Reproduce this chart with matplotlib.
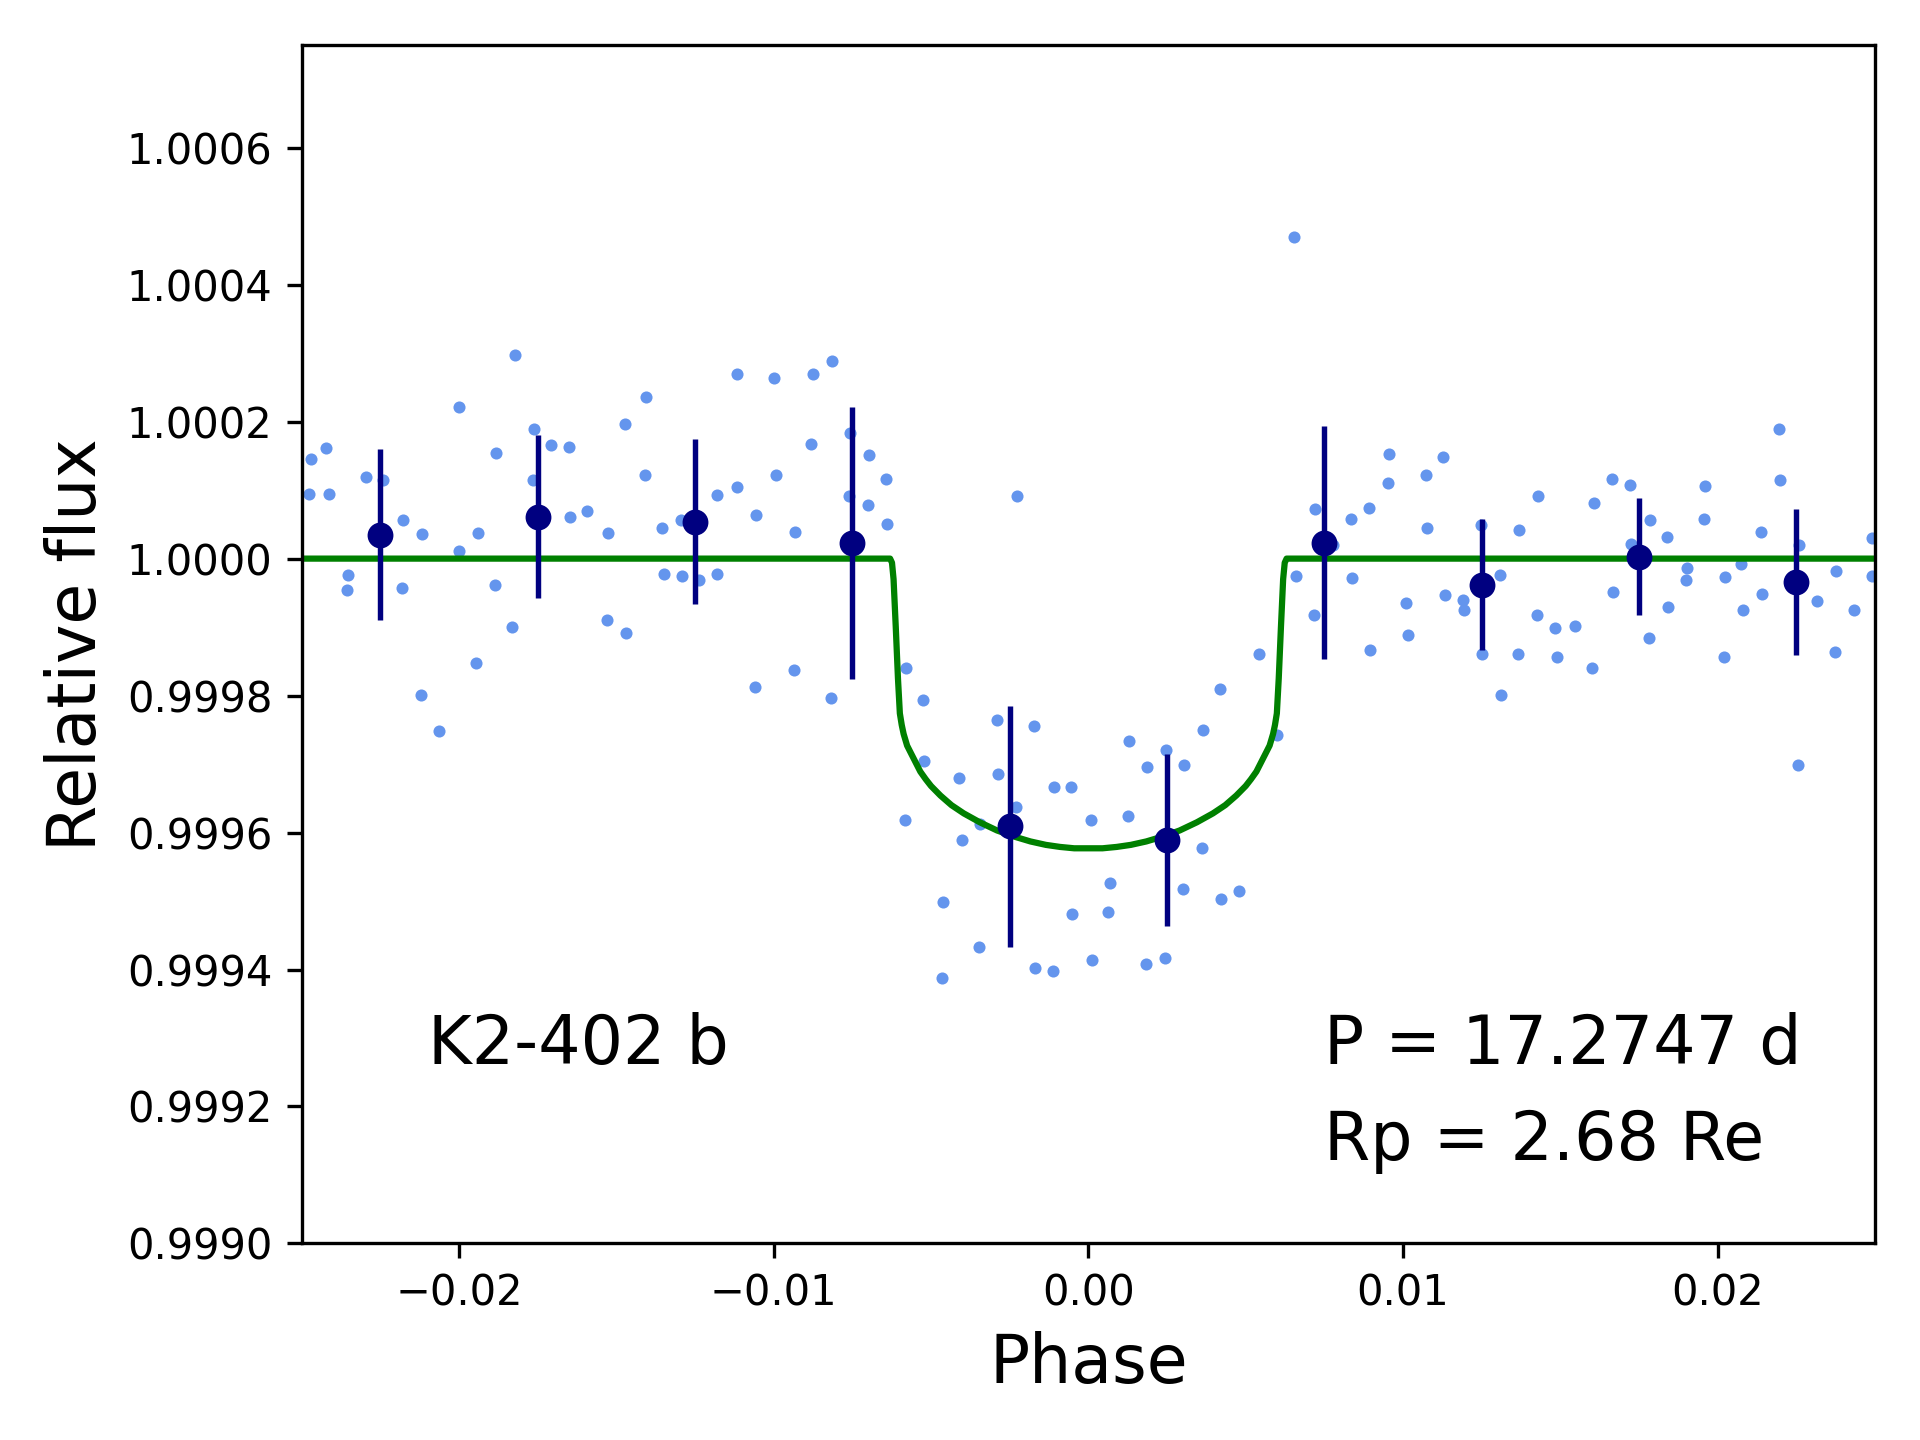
import numpy as np
import matplotlib
matplotlib.use("Agg")
import matplotlib.pyplot as plt
from matplotlib.ticker import FormatStrFormatter

# folded light curve (phase, flux offset in ppm)
phase = [
    -0.02471, -0.02475, -0.02421, -0.02414, -0.02354, -0.02357, -0.02297, -0.02240,
    -0.02179, -0.02182, -0.02119, -0.02122, -0.02065, -0.02001, -0.02001, -0.01947,
    -0.01941, -0.01881, -0.01884, -0.01830, -0.01823, -0.01763, -0.01766, -0.01706,
    -0.01649, -0.01646, -0.01592, -0.01528, -0.01531, -0.01474, -0.01468, -0.01407,
    -0.01410, -0.01356, -0.01350, -0.01293, -0.01290, -0.01236, -0.01179, -0.01179,
    -0.01115, -0.01117, -0.01055, -0.01058, -0.00994, -0.01000, -0.00933, -0.00936,
    -0.00882, -0.00876, -0.00815, -0.00819, -0.00758, -0.00761, -0.00698, -0.00701,
    -0.00644, -0.00641,
    -0.00578, -0.00584, -0.00527, -0.00521, -0.00461, -0.00464, -0.00410, -0.00403,
    -0.00346, -0.00343, -0.00289, -0.00286, -0.00229, -0.00226, -0.00172, -0.00168,
    -0.00108, -0.00111, -0.00054, -0.00051, 0.00013, 0.00010, 0.00070, 0.00064,
    0.00130, 0.00127, 0.00184, 0.00187, 0.00248, 0.00245, 0.00305, 0.00302,
    0.00365, 0.00362, 0.00419, 0.00422, 0.00480, 0.00543, 0.00600,
    0.00654, 0.00661, 0.00718, 0.00721, 0.00778, 0.00839, 0.00835, 0.00893,
    0.00896, 0.00953, 0.00956, 0.01010, 0.01017, 0.01074, 0.01077, 0.01128,
    0.01134, 0.01191, 0.01194, 0.01248, 0.01252, 0.01309, 0.01312, 0.01366,
    0.01369, 0.01426, 0.01430, 0.01483, 0.01490, 0.01547, 0.01601, 0.01607,
    0.01665, 0.01668, 0.01722, 0.01725, 0.01782, 0.01785, 0.01839, 0.01842,
    0.01903, 0.01900, 0.01957, 0.01960, 0.02020, 0.02024, 0.02074, 0.02081,
    0.02138, 0.02141, 0.02195, 0.02198, 0.02259, 0.02255, 0.02316, 0.02376,
    0.02373, 0.02433, 0.02490, 0.02490,
]
dflux_ppm = [
    146, 94, 162, 94, -24, -46, 119, 115,
    56, -43, 36, -199, -252, 221, 11, -152,
    37, 154, -38, -100, 297, 189, 115, 166,
    163, 61, 70, 37, -90, 197, -109, 236,
    122, 45, -22, 56, -25, -31, 93, -22,
    104, 270, 64, -187, 122, 264, 39, -162,
    168, 270, 288, -203, 183, 92, 152, 79,
    116, 50,
    -159, -381, -206, -295, -502, -612, -321, -411,
    -567, -388, -235, -315, -362, 91, -245, -598,
    -333, -602, -333, -519, -586, -382, -473, -516,
    -267, -376, -592, -305, -279, -583, -302, -483,
    -250, -423, -191, -497, -486, -139, -257,
    470, -25, -82, 72, 20, -28, 58, 74,
    -133, 110, 153, -65, -111, 122, 45, 148,
    -53, -60, -75, 49, -139, -24, -199, -140,
    42, -83, 91, -102, -143, -98, -159, 81,
    116, -49, 107, 21, -116, 56, 32, -70,
    -14, -31, 58, 106, -143, -27, -8, -75,
    39, -51, 190, 115, 20, -302, -62, -18,
    -137, -75, 30, -25,
]

# binned points
bin_phase = [-0.0225, -0.0175, -0.0125, -0.0075, -0.0025, 0.0025, 0.0075, 0.0125, 0.0175, 0.0225]
bin_ppm = [35, 61, 54, 23, -391, -411, 23, -38, 3, -34]
bin_err_ppm = [125, 119, 120, 199, 176, 126, 170, 96, 85, 107]

# transit model
model_phase = [-0.025, -0.00630, -0.00624, -0.00619, -0.00612, -0.00605, -0.00599,
               -0.00593, -0.00587, -0.00576, -0.00565, -0.00555, -0.00534, -0.00517,
               -0.00500, -0.00470, -0.00435, -0.00396, -0.00345, -0.00290, -0.00235,
               -0.00184, -0.00135, -0.00090, -0.00045, 0.0,
               0.00045, 0.00090, 0.00135, 0.00184, 0.00235, 0.00290, 0.00345,
               0.00396, 0.00435, 0.00470, 0.00500, 0.00517, 0.00534, 0.00555,
               0.00565, 0.00576, 0.00587, 0.00593, 0.00599, 0.00605, 0.00612,
               0.00619, 0.00624, 0.00630, 0.025]
model_ppm = [0, 0, -6, -30, -100, -175, -226,
             -243, -256, -273, -283, -292, -311, -322,
             -332, -346, -360, -372, -385, -397, -406,
             -413, -418, -421, -423, -423,
             -423, -421, -418, -413, -406, -397, -385,
             -372, -360, -346, -332, -322, -311, -292,
             -283, -273, -256, -243, -226, -175, -100,
             -30, -6, 0, 0]

flux = 1 + np.array(dflux_ppm) * 1e-6
bin_flux = 1 + np.array(bin_ppm) * 1e-6
bin_err = np.array(bin_err_ppm) * 1e-6
model_flux = 1 + np.array(model_ppm) * 1e-6

fig, ax = plt.subplots(figsize=(6.4, 4.8), dpi=300)
fig.subplots_adjust(left=0.1571, right=0.9766, bottom=0.1365, top=0.96875)

ax.plot(phase, flux, 'o', ms=2.9, mew=0, color='cornflowerblue')
ax.plot(model_phase, model_flux, color='green', lw=1.5)
ax.errorbar(bin_phase, bin_flux, yerr=bin_err, fmt='o', ms=5.2, color='navy',
            elinewidth=1.3)

ax.set_xlim(-0.025, 0.025)
ax.set_ylim(0.9990, 1.00075)
ax.set_xticks([-0.02, -0.01, 0.0, 0.01, 0.02])
ax.set_yticks(np.arange(0.9990, 1.00061, 0.0002))
ax.yaxis.set_major_formatter(FormatStrFormatter('%.4f'))

ax.set_xlabel("Phase", fontsize=16)
ax.set_ylabel("Relative flux", fontsize=16)

ax.text(0.08, 0.15, "K2-402 b", transform=ax.transAxes, fontsize=16)
ax.text(0.65, 0.15, "P = 17.2747 d", transform=ax.transAxes, fontsize=16)
ax.text(0.65, 0.07, "Rp = 2.68 Re", transform=ax.transAxes, fontsize=16)

fig.savefig("out.png", dpi=300)
